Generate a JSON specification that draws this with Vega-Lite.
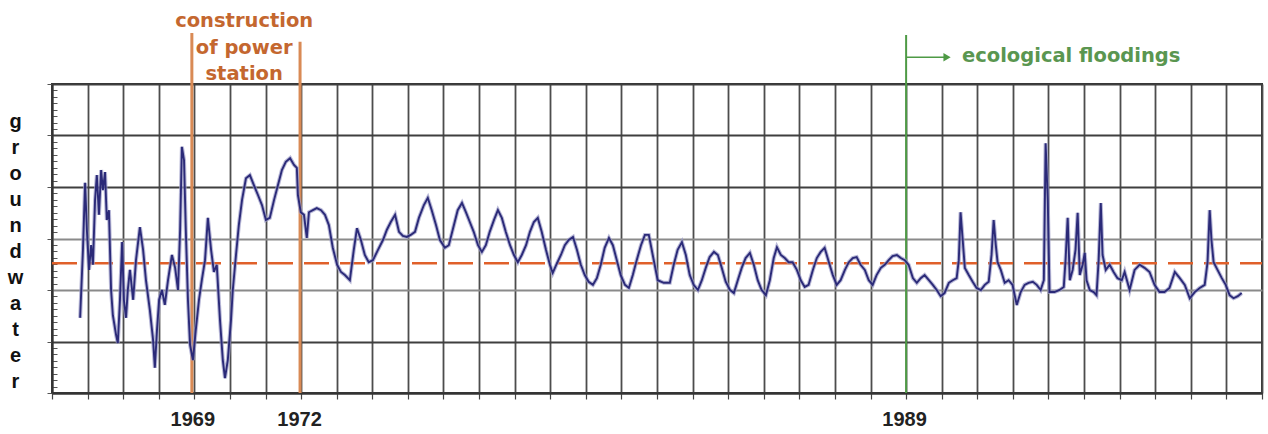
{
  "$schema": "https://vega.github.io/schema/vega-lite/v6.json",
  "width": 1210,
  "height": 309,
  "autosize": {"type": "none"},
  "padding": {"left": 52, "top": 84, "right": 6, "bottom": 41},
  "background": "white",
  "config": {"view": {"stroke": "#333333", "strokeWidth": 2}, "font": "Liberation Sans"},
  "datasets": {
    "series": [
      {"year":1965.79,"level":1.46},{"year":1965.87,"level":2.78},{"year":1965.93,"level":4.08},{"year":1965.98,"level":3.17},
      {"year":1966.04,"level":2.39},{"year":1966.10,"level":2.87},{"year":1966.15,"level":2.49},{"year":1966.21,"level":3.75},
      {"year":1966.26,"level":4.23},{"year":1966.32,"level":3.46},{"year":1966.38,"level":4.33},{"year":1966.43,"level":3.94},
      {"year":1966.49,"level":4.29},{"year":1966.54,"level":3.36},{"year":1966.60,"level":3.55},{"year":1966.66,"level":2.00},
      {"year":1966.71,"level":1.51},{"year":1966.80,"level":1.13},{"year":1966.85,"level":0.97},{"year":1966.91,"level":1.81},
      {"year":1966.97,"level":2.93},{"year":1967.02,"level":1.81},{"year":1967.08,"level":1.46},{"year":1967.13,"level":2.00},
      {"year":1967.19,"level":2.39},{"year":1967.28,"level":1.81},{"year":1967.36,"level":2.58},{"year":1967.47,"level":3.22},
      {"year":1967.56,"level":2.78},{"year":1967.64,"level":2.19},{"year":1967.75,"level":1.61},{"year":1967.84,"level":1.03},
      {"year":1967.89,"level":0.49},{"year":1967.95,"level":1.22},{"year":1968.01,"level":1.81},{"year":1968.09,"level":2.00},
      {"year":1968.17,"level":1.71},{"year":1968.26,"level":2.19},{"year":1968.37,"level":2.68},{"year":1968.46,"level":2.43},
      {"year":1968.54,"level":2.00},{"year":1968.60,"level":3.17},{"year":1968.65,"level":4.78},{"year":1968.71,"level":4.52},
      {"year":1968.76,"level":3.17},{"year":1968.82,"level":1.81},{"year":1968.88,"level":0.93},{"year":1968.96,"level":0.64},
      {"year":1969.04,"level":1.22},{"year":1969.13,"level":1.81},{"year":1969.21,"level":2.19},{"year":1969.30,"level":2.58},
      {"year":1969.38,"level":3.40},{"year":1969.47,"level":2.78},{"year":1969.55,"level":2.35},{"year":1969.63,"level":2.49},
      {"year":1969.72,"level":1.42},{"year":1969.80,"level":0.64},{"year":1969.86,"level":0.29},{"year":1969.94,"level":0.64},
      {"year":1970.03,"level":1.42},{"year":1970.08,"level":2.00},{"year":1970.17,"level":2.68},{"year":1970.25,"level":3.26},
      {"year":1970.34,"level":3.75},{"year":1970.45,"level":4.17},{"year":1970.56,"level":4.23},{"year":1970.67,"level":4.04},
      {"year":1970.79,"level":3.84},{"year":1970.90,"level":3.65},{"year":1971.01,"level":3.36},{"year":1971.12,"level":3.40},
      {"year":1971.24,"level":3.75},{"year":1971.35,"level":4.04},{"year":1971.46,"level":4.33},{"year":1971.57,"level":4.49},
      {"year":1971.69,"level":4.56},{"year":1971.80,"level":4.43},{"year":1971.88,"level":4.37},{"year":1971.91,"level":3.84},
      {"year":1971.99,"level":3.51},{"year":1972.08,"level":3.46},{"year":1972.16,"level":3.01},{"year":1972.22,"level":3.51},
      {"year":1972.33,"level":3.55},{"year":1972.44,"level":3.59},{"year":1972.56,"level":3.55},{"year":1972.67,"level":3.46},
      {"year":1972.78,"level":3.26},{"year":1972.89,"level":2.82},{"year":1973.01,"level":2.49},{"year":1973.12,"level":2.35},
      {"year":1973.23,"level":2.29},{"year":1973.37,"level":2.19},{"year":1973.48,"level":2.78},{"year":1973.57,"level":3.20},
      {"year":1973.68,"level":2.97},{"year":1973.79,"level":2.68},{"year":1973.90,"level":2.54},{"year":1974.02,"level":2.58},
      {"year":1974.16,"level":2.78},{"year":1974.30,"level":2.97},{"year":1974.41,"level":3.17},{"year":1974.52,"level":3.32},
      {"year":1974.64,"level":3.46},{"year":1974.75,"level":3.13},{"year":1974.86,"level":3.05},{"year":1974.97,"level":3.03},
      {"year":1975.08,"level":3.07},{"year":1975.20,"level":3.13},{"year":1975.31,"level":3.40},{"year":1975.45,"level":3.65},
      {"year":1975.56,"level":3.79},{"year":1975.67,"level":3.55},{"year":1975.79,"level":3.26},{"year":1975.90,"level":2.97},
      {"year":1976.04,"level":2.82},{"year":1976.15,"level":2.87},{"year":1976.26,"level":3.17},{"year":1976.40,"level":3.55},
      {"year":1976.52,"level":3.69},{"year":1976.63,"level":3.51},{"year":1976.74,"level":3.32},{"year":1976.85,"level":3.13},
      {"year":1976.97,"level":2.87},{"year":1977.08,"level":2.74},{"year":1977.19,"level":2.87},{"year":1977.30,"level":3.13},
      {"year":1977.42,"level":3.36},{"year":1977.53,"level":3.55},{"year":1977.64,"level":3.40},{"year":1977.75,"level":3.13},
      {"year":1977.87,"level":2.87},{"year":1977.98,"level":2.68},{"year":1978.09,"level":2.54},{"year":1978.20,"level":2.68},
      {"year":1978.32,"level":2.87},{"year":1978.43,"level":3.13},{"year":1978.54,"level":3.32},{"year":1978.65,"level":3.40},
      {"year":1978.76,"level":3.13},{"year":1978.88,"level":2.78},{"year":1978.99,"level":2.49},{"year":1979.07,"level":2.33},
      {"year":1979.19,"level":2.52},{"year":1979.30,"level":2.68},{"year":1979.41,"level":2.87},{"year":1979.52,"level":2.97},
      {"year":1979.64,"level":3.03},{"year":1979.75,"level":2.78},{"year":1979.86,"level":2.49},{"year":1979.97,"level":2.29},
      {"year":1980.08,"level":2.16},{"year":1980.20,"level":2.10},{"year":1980.31,"level":2.23},{"year":1980.42,"level":2.49},
      {"year":1980.53,"level":2.82},{"year":1980.65,"level":3.01},{"year":1980.76,"level":2.87},{"year":1980.87,"level":2.58},
      {"year":1980.98,"level":2.29},{"year":1981.10,"level":2.10},{"year":1981.21,"level":2.04},{"year":1981.32,"level":2.29},
      {"year":1981.43,"level":2.58},{"year":1981.55,"level":2.87},{"year":1981.66,"level":3.07},{"year":1981.77,"level":3.07},
      {"year":1981.88,"level":2.68},{"year":1982.02,"level":2.19},{"year":1982.19,"level":2.14},{"year":1982.36,"level":2.14},
      {"year":1982.47,"level":2.49},{"year":1982.58,"level":2.78},{"year":1982.70,"level":2.93},{"year":1982.81,"level":2.68},
      {"year":1982.92,"level":2.29},{"year":1983.03,"level":2.10},{"year":1983.15,"level":2.00},{"year":1983.26,"level":2.19},
      {"year":1983.37,"level":2.43},{"year":1983.48,"level":2.64},{"year":1983.60,"level":2.74},{"year":1983.71,"level":2.68},
      {"year":1983.82,"level":2.43},{"year":1983.93,"level":2.16},{"year":1984.05,"level":2.00},{"year":1984.16,"level":1.94},
      {"year":1984.27,"level":2.19},{"year":1984.38,"level":2.43},{"year":1984.49,"level":2.62},{"year":1984.61,"level":2.72},
      {"year":1984.72,"level":2.49},{"year":1984.83,"level":2.19},{"year":1984.94,"level":2.00},{"year":1985.06,"level":1.90},
      {"year":1985.17,"level":2.19},{"year":1985.28,"level":2.62},{"year":1985.37,"level":2.83},{"year":1985.48,"level":2.68},
      {"year":1985.59,"level":2.62},{"year":1985.70,"level":2.54},{"year":1985.81,"level":2.54},{"year":1985.93,"level":2.39},
      {"year":1986.04,"level":2.19},{"year":1986.15,"level":2.06},{"year":1986.26,"level":2.10},{"year":1986.38,"level":2.39},
      {"year":1986.49,"level":2.62},{"year":1986.60,"level":2.74},{"year":1986.71,"level":2.82},{"year":1986.83,"level":2.54},
      {"year":1986.94,"level":2.29},{"year":1987.05,"level":2.10},{"year":1987.16,"level":2.19},{"year":1987.28,"level":2.39},
      {"year":1987.39,"level":2.54},{"year":1987.50,"level":2.62},{"year":1987.61,"level":2.64},{"year":1987.72,"level":2.49},
      {"year":1987.84,"level":2.39},{"year":1987.95,"level":2.19},{"year":1988.06,"level":2.10},{"year":1988.17,"level":2.29},
      {"year":1988.29,"level":2.43},{"year":1988.40,"level":2.49},{"year":1988.51,"level":2.58},{"year":1988.62,"level":2.66},
      {"year":1988.74,"level":2.68},{"year":1988.85,"level":2.62},{"year":1988.96,"level":2.58},{"year":1989.07,"level":2.49},
      {"year":1989.19,"level":2.23},{"year":1989.30,"level":2.14},{"year":1989.41,"level":2.23},{"year":1989.52,"level":2.29},
      {"year":1989.64,"level":2.19},{"year":1989.75,"level":2.10},{"year":1989.86,"level":2.00},{"year":1989.97,"level":1.88},
      {"year":1990.08,"level":1.94},{"year":1990.20,"level":2.14},{"year":1990.31,"level":2.19},{"year":1990.42,"level":2.23},
      {"year":1990.48,"level":2.58},{"year":1990.53,"level":3.51},{"year":1990.59,"level":2.97},{"year":1990.65,"level":2.43},
      {"year":1990.76,"level":2.29},{"year":1990.87,"level":2.16},{"year":1990.98,"level":2.04},{"year":1991.10,"level":2.00},
      {"year":1991.21,"level":2.10},{"year":1991.32,"level":2.16},{"year":1991.40,"level":2.68},{"year":1991.46,"level":3.36},
      {"year":1991.52,"level":2.87},{"year":1991.57,"level":2.54},{"year":1991.66,"level":2.39},{"year":1991.77,"level":2.14},
      {"year":1991.88,"level":2.19},{"year":1991.99,"level":2.10},{"year":1992.11,"level":1.71},{"year":1992.22,"level":1.96},
      {"year":1992.33,"level":2.10},{"year":1992.44,"level":2.14},{"year":1992.56,"level":2.16},{"year":1992.67,"level":2.10},
      {"year":1992.78,"level":2.00},{"year":1992.87,"level":2.19},{"year":1992.92,"level":4.85},{"year":1992.98,"level":3.75},
      {"year":1993.03,"level":1.96},{"year":1993.17,"level":1.96},{"year":1993.31,"level":2.00},{"year":1993.43,"level":2.06},
      {"year":1993.48,"level":2.58},{"year":1993.54,"level":3.40},{"year":1993.60,"level":2.19},{"year":1993.68,"level":2.39},
      {"year":1993.76,"level":2.78},{"year":1993.82,"level":3.50},{"year":1993.88,"level":2.29},{"year":1993.96,"level":2.49},
      {"year":1994.02,"level":2.72},{"year":1994.07,"level":2.19},{"year":1994.16,"level":2.00},{"year":1994.27,"level":1.96},
      {"year":1994.35,"level":1.90},{"year":1994.41,"level":2.58},{"year":1994.47,"level":3.69},{"year":1994.52,"level":2.68},
      {"year":1994.61,"level":2.39},{"year":1994.72,"level":2.49},{"year":1994.83,"level":2.35},{"year":1994.94,"level":2.23},
      {"year":1995.06,"level":2.19},{"year":1995.14,"level":2.35},{"year":1995.28,"level":2.00},{"year":1995.42,"level":2.39},
      {"year":1995.56,"level":2.49},{"year":1995.70,"level":2.43},{"year":1995.84,"level":2.35},{"year":1995.98,"level":2.10},
      {"year":1996.12,"level":1.96},{"year":1996.26,"level":1.96},{"year":1996.40,"level":2.04},{"year":1996.55,"level":2.35},
      {"year":1996.69,"level":2.23},{"year":1996.83,"level":2.10},{"year":1996.97,"level":1.84},{"year":1997.11,"level":1.96},
      {"year":1997.25,"level":2.04},{"year":1997.39,"level":2.10},{"year":1997.47,"level":2.54},{"year":1997.53,"level":3.55},
      {"year":1997.58,"level":2.97},{"year":1997.64,"level":2.54},{"year":1997.75,"level":2.39},{"year":1997.87,"level":2.23},
      {"year":1997.98,"level":2.10},{"year":1998.09,"level":1.90},{"year":1998.20,"level":1.84},{"year":1998.32,"level":1.88},
      {"year":1998.43,"level":1.94}
    ],
    "construction": [{"year": 1968.93, "level": 0, "level2": 6.99}, {"year": 1971.97, "level": 0, "level2": 6.82}],
    "flooding": [{"year": 1989.0, "level": 0, "level2": 6.95}],
    "constructionText": [
      {"line": "construction", "year": 1970.4, "level": 7.22},
      {"line": "of power", "year": 1970.4, "level": 6.7},
      {"line": "station", "year": 1970.4, "level": 6.2}
    ],
    "arrow": [{"year": 1989.0, "year2": 1990.15, "level": 6.52}],
    "arrowHead": [{"year": 1990.15, "level": 6.52}],
    "floodText": [{"line": "ecological floodings", "year": 1990.57, "level": 6.54}],
    "reference": [{"year": 1965, "year2": 1999, "level": 2.52}]
  },
  "encoding": {
    "x": {"field": "year", "type": "quantitative",
      "scale": {"domain": [1965, 1999], "nice": false, "zero": false},
      "axis": {
        "values": [1965,1965.5,1966,1966.5,1967,1967.5,1968,1968.5,1969,1969.5,1970,1970.5,1971,1971.5,1972,1972.5,1973,1973.5,1974,1974.5,1975,1975.5,1976,1976.5,1977,1977.5,1978,1978.5,1979,1979.5,1980,1980.5,1981,1981.5,1982,1982.5,1983,1983.5,1984,1984.5,1985,1985.5,1986,1986.5,1987,1987.5,1988,1988.5,1989,1989.5,1990,1990.5,1991,1991.5,1992,1992.5,1993,1993.5,1994,1994.5,1995,1995.5,1996,1996.5,1997,1997.5,1998,1998.5,1999],
        "grid": true,
        "gridColor": {"condition": {"test": "datum.value % 1 != 0", "value": "rgba(0,0,0,0)"}, "value": "#4d4d4d"},
        "gridWidth": 1.8,
        "domainColor": "#333333",
        "domainWidth": 2,
        "tickColor": "#444444",
        "tickWidth": 1.2,
        "tickSize": 6,
        "format": "d",
        "labelExpr": "indexof([1969, 1972, 1989], datum.value) >= 0 ? datum.label : ''",
        "labelFont": "Liberation Sans",
        "labelFontWeight": "bold",
        "labelFontSize": 20,
        "labelColor": "#222222",
        "labelPadding": 10,
        "labelOffset": -2,
        "labelOverlap": false,
        "labelFlush": false,
        "labelBound": false,
        "title": null
      }
    },
    "y": {"field": "level", "type": "quantitative",
      "scale": {"domain": [0, 6], "nice": false, "zero": false},
      "axis": {
        "values": [0,0.125,0.25,0.375,0.5,0.625,0.75,0.875,1,1.125,1.25,1.375,1.5,1.625,1.75,1.875,2,2.125,2.25,2.375,2.5,2.625,2.75,2.875,3,3.125,3.25,3.375,3.5,3.625,3.75,3.875,4,4.125,4.25,4.375,4.5,4.625,4.75,4.875,5,5.125,5.25,5.375,5.5,5.625,5.75,5.875,6],
        "labels": false,
        "grid": true,
        "gridColor": {"condition": [{"test": "datum.value % 1 != 0", "value": "rgba(0,0,0,0)"}, {"test": "datum.value == 2 || datum.value == 3", "value": "#8a8a8a"}], "value": "#3f3f3f"},
        "gridWidth": 2,
        "tickSize": {"condition": {"test": "datum.value % 1 != 0", "value": -5}, "value": 5},
        "tickColor": "#555555",
        "tickWidth": 1,
        "domainColor": "#333333",
        "domainWidth": 2,
        "title": ["g","r","o","u","n","d","w","a","t","e","r"],
        "titleAngle": 0,
        "titleFont": "Liberation Sans",
        "titleFontWeight": "bold",
        "titleFontSize": 20,
        "titleColor": "#111111",
        "titleLineHeight": 26,
        "titleX": -37,
        "titleY": 37,
        "titleAlign": "center",
        "titleBaseline": "middle"
      }
    }
  },
  "layer": [
    {
      "data": {"name": "construction"},
      "mark": {"type": "rule", "color": "#d98a55", "strokeWidth": 3},
      "encoding": {"y2": {"field": "level2"}}
    },
    {
      "data": {"name": "flooding"},
      "mark": {"type": "rule", "color": "#4e9a45", "strokeWidth": 2},
      "encoding": {"y2": {"field": "level2"}}
    },
    {
      "data": {"name": "reference"},
      "mark": {"type": "rule", "color": "#e0602a", "strokeWidth": 2.5, "strokeDash": [25, 11]},
      "encoding": {"x2": {"field": "year2"}}
    },
    {
      "data": {"name": "series"},
      "mark": {"type": "line", "color": "#9a9ac6", "strokeWidth": 4, "opacity": 0.7},
      "encoding": {}
    },
    {
      "data": {"name": "series"},
      "mark": {"type": "line", "color": "#2b2a78", "strokeWidth": 1.9},
      "encoding": {}
    },
    {
      "data": {"name": "arrow"},
      "mark": {"type": "rule", "color": "#4e9a45", "strokeWidth": 1.5},
      "encoding": {"x2": {"field": "year2"}}
    },
    {
      "data": {"name": "arrowHead"},
      "mark": {"type": "point", "shape": "triangle-right", "filled": true, "color": "#4e9a45", "size": 70, "opacity": 1}
    },
    {
      "data": {"name": "constructionText"},
      "mark": {"type": "text", "font": "DejaVu Sans", "fontWeight": "bold", "fontSize": 19.5, "color": "#c4672f", "align": "center", "baseline": "middle"},
      "encoding": {"text": {"field": "line"}}
    },
    {
      "data": {"name": "floodText"},
      "mark": {"type": "text", "font": "DejaVu Sans", "fontWeight": "bold", "fontSize": 19.5, "color": "#5a9650", "align": "left", "baseline": "middle"},
      "encoding": {"text": {"field": "line"}}
    }
  ]
}
